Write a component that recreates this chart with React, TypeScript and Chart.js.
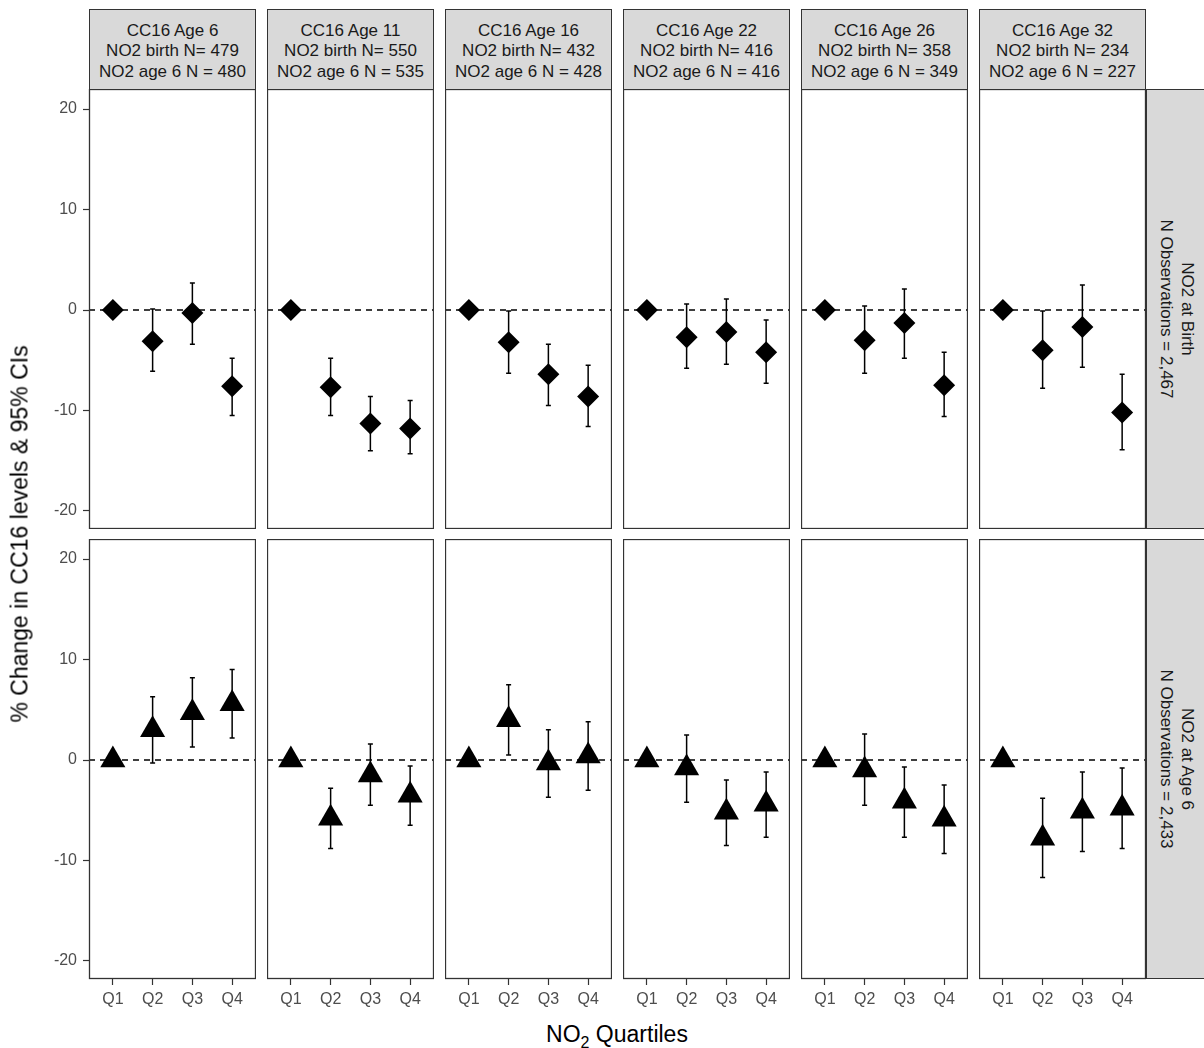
import React, { useEffect, useRef } from 'react';
import { Chart, registerables } from 'chart.js';

Chart.register(...registerables);

// ---------------- data ----------------
const QUARTILES = ['Q1', 'Q2', 'Q3', 'Q4'];
const AGE_LABELS = ['CC16 Age 6', 'CC16 Age 11', 'CC16 Age 16', 'CC16 Age 22', 'CC16 Age 26', 'CC16 Age 32'];
const BIRTH_N = [479, 550, 432, 416, 358, 234];
const AGE6_N = [480, 535, 428, 416, 349, 227];
const ROW_LABELS = ['NO2 at Birth', 'NO2 at Age 6'];
const ROW_OBS = ['2,467', '2,433'];
const Y_TICKS = [-20, -10, 0, 10, 20];

// NO2 at birth (diamonds)
const BIRTH_EST = [
  [0, -3.1, -0.3, -7.6],
  [0, -7.7, -11.3, -11.8],
  [0, -3.2, -6.4, -8.6],
  [0, -2.7, -2.2, -4.2],
  [0, -3.0, -1.3, -7.5],
  [0, -4.0, -1.7, -10.2],
];
const BIRTH_LO = [
  [null, -6.1, -3.4, -10.5],
  [null, -10.5, -14.0, -14.3],
  [null, -6.3, -9.5, -11.6],
  [null, -5.8, -5.4, -7.3],
  [null, -6.3, -4.8, -10.6],
  [null, -7.8, -5.7, -13.9],
];
const BIRTH_HI = [
  [null, 0.1, 2.7, -4.8],
  [null, -4.8, -8.6, -9.0],
  [null, -0.1, -3.4, -5.5],
  [null, 0.6, 1.1, -1.0],
  [null, 0.4, 2.1, -4.2],
  [null, -0.1, 2.5, -6.4],
];

// NO2 at age 6 (triangles)
const AGE6_EST = [
  [0, 3.0, 4.7, 5.6],
  [0, -5.8, -1.5, -3.5],
  [0, 4.0, -0.3, 0.4],
  [0, -0.8, -5.2, -4.4],
  [0, -1.0, -4.1, -5.9],
  [0, -7.8, -5.1, -4.8],
];
const AGE6_LO = [
  [null, -0.3, 1.3, 2.2],
  [null, -8.8, -4.5, -6.5],
  [null, 0.5, -3.7, -3.0],
  [null, -4.2, -8.5, -7.7],
  [null, -4.5, -7.7, -9.3],
  [null, -11.7, -9.1, -8.8],
];
const AGE6_HI = [
  [null, 6.3, 8.2, 9.0],
  [null, -2.8, 1.6, -0.6],
  [null, 7.5, 3.0, 3.8],
  [null, 2.5, -2.0, -1.2],
  [null, 2.6, -0.7, -2.5],
  [null, -3.8, -1.2, -0.8],
];

// ---------------- layout / style ----------------
const FONT = "'Liberation Sans', Arial, Helvetica, sans-serif";
const PANEL_LEFT0 = 89;
const PANEL_PITCH = 178;
const PANEL_W = 167;
const ROW_TOPS = [89, 539];
const PANEL_H = 440;
const STRIP_TOP = 9;
const STRIP_H = 80;
const RIGHT_STRIP_LEFT = 1146;
const RIGHT_STRIP_W = 60;
const Y_AXIS_W = 60;
const X_AXIS_H = 40;
const Y_MIN = -21.8;
const Y_MAX = 22.0;
const X_MIN = 0.4;
const X_MAX = 4.6;
const DARK = '#333333';
const TICK_TEXT = '#4d4d4d';
const TICK_FONT = 16;
const STRIP_FONT = 17;
const TITLE_FONT = 23;

function Panel({ row, col }: { row: number; col: number }) {
  const ref = useRef<HTMLCanvasElement>(null);
  const showY = col === 0;
  const showX = row === 1;
  const left = PANEL_LEFT0 + col * PANEL_PITCH - (showY ? Y_AXIS_W : 0);
  const top = ROW_TOPS[row];
  const width = PANEL_W + (showY ? Y_AXIS_W : 0);
  const height = PANEL_H + (showX ? X_AXIS_H : 0);

  useEffect(() => {
    const est = row === 0 ? BIRTH_EST[col] : AGE6_EST[col];
    const lo = row === 0 ? BIRTH_LO[col] : AGE6_LO[col];
    const hi = row === 0 ? BIRTH_HI[col] : AGE6_HI[col];

    const deco = {
      id: 'panelDeco',
      beforeDatasetsDraw(chart: any) {
        const { ctx, chartArea: a, scales } = chart;
        const y0 = scales.y.getPixelForValue(0);
        ctx.save();
        ctx.strokeStyle = '#000';
        ctx.lineWidth = 1.4;
        ctx.setLineDash([6, 5]);
        ctx.beginPath();
        ctx.moveTo(a.left, y0);
        ctx.lineTo(a.right, y0);
        ctx.stroke();
        ctx.setLineDash([]);
        ctx.lineWidth = 1.5;
        ctx.strokeStyle = '#000';
        for (let i = 0; i < lo.length; i++) {
          const l = lo[i];
          const h = hi[i];
          if (l == null || h == null) continue;
          const x = scales.x.getPixelForValue(i + 1);
          const yl = scales.y.getPixelForValue(l);
          const yh = scales.y.getPixelForValue(h);
          ctx.beginPath();
          ctx.moveTo(x, yl);
          ctx.lineTo(x, yh);
          ctx.moveTo(x - 2.5, yl);
          ctx.lineTo(x + 2.5, yl);
          ctx.moveTo(x - 2.5, yh);
          ctx.lineTo(x + 2.5, yh);
          ctx.stroke();
        }
        ctx.restore();
      },
      afterDraw(chart: any) {
        const { ctx, chartArea: a } = chart;
        ctx.save();
        ctx.strokeStyle = DARK;
        ctx.lineWidth = 1.3;
        ctx.strokeRect(a.left + 0.5, a.top + 0.5, a.right - a.left - 1, a.bottom - a.top - 1);
        ctx.restore();
      },
    };

    const chart = new Chart(ref.current as HTMLCanvasElement, {
      type: 'scatter',
      data: {
        datasets: [
          {
            data: est.map((v, i) => ({ x: i + 1, y: v })),
            pointStyle: row === 0 ? 'rectRot' : 'triangle',
            pointRadius: row === 0 ? 11 : 14.5,
            pointHoverRadius: row === 0 ? 11 : 14.5,
            pointBackgroundColor: '#000',
            pointBorderColor: '#000',
            pointBorderWidth: 0,
            clip: false,
          } as any,
        ],
      },
      options: {
        animation: false,
        responsive: false,
        maintainAspectRatio: false,
        events: [],
        layout: { padding: 0, autoPadding: false },
        plugins: { legend: { display: false }, tooltip: { enabled: false } },
        scales: {
          x: {
            type: 'linear',
            min: X_MIN,
            max: X_MAX,
            display: showX,
            afterBuildTicks: (s: any) => {
              s.ticks = QUARTILES.map((_, i) => ({ value: i + 1 }));
            },
            afterFit: (s: any) => {
              s.height = showX ? X_AXIS_H : 0;
              s.paddingLeft = 0;
              s.paddingRight = 0;
            },
            ticks: {
              callback: (v: any) => QUARTILES[Math.round(v) - 1] ?? '',
              font: { family: FONT, size: TICK_FONT },
              color: TICK_TEXT,
              padding: 5,
              autoSkip: false,
              maxRotation: 0,
              minRotation: 0,
            },
            grid: {
              drawOnChartArea: false,
              drawTicks: true,
              tickLength: 6,
              tickColor: DARK,
              tickWidth: 1.2,
              color: DARK,
            },
            border: { display: false },
          },
          y: {
            type: 'linear',
            min: Y_MIN,
            max: Y_MAX,
            display: showY,
            afterBuildTicks: (s: any) => {
              s.ticks = Y_TICKS.map((v) => ({ value: v }));
            },
            afterFit: (s: any) => {
              s.width = showY ? Y_AXIS_W : 0;
              s.paddingTop = 0;
              s.paddingBottom = 0;
            },
            ticks: {
              font: { family: FONT, size: TICK_FONT },
              color: TICK_TEXT,
              padding: 6,
            },
            grid: {
              drawOnChartArea: false,
              drawTicks: true,
              tickLength: 6,
              tickColor: DARK,
              tickWidth: 1.2,
              color: DARK,
            },
            border: { display: false },
          },
        },
      } as any,
      plugins: [deco],
    });
    return () => chart.destroy();
  }, [row, col]);

  return (
    <canvas
      ref={ref}
      width={width}
      height={height}
      style={{ position: 'absolute', left, top, width, height }}
    />
  );
}

export default function App() {
  const cols = AGE_LABELS.map((_, i) => i);
  return (
    <div
      style={{
        position: 'absolute',
        left: 0,
        top: 0,
        width: 1204,
        height: 1048,
        overflow: 'hidden',
        background: '#fff',
        fontFamily: FONT,
      }}
    >
      {cols.map((c) => (
        <div
          key={'strip' + c}
          style={{
            position: 'absolute',
            left: PANEL_LEFT0 + c * PANEL_PITCH,
            top: STRIP_TOP,
            width: PANEL_W,
            height: STRIP_H + 1,
            boxSizing: 'border-box',
            background: '#d9d9d9',
            border: `1.3px solid ${DARK}`,
            paddingTop: 4,
            display: 'flex',
            flexDirection: 'column',
            justifyContent: 'center',
            alignItems: 'center',
            color: '#1a1a1a',
            fontSize: STRIP_FONT,
            lineHeight: '20.5px',
            whiteSpace: 'nowrap',
          }}
        >
          <div>{AGE_LABELS[c]}</div>
          <div>{`NO2 birth N= ${BIRTH_N[c]}`}</div>
          <div>{`NO2 age 6 N = ${AGE6_N[c]}`}</div>
        </div>
      ))}
      {[0, 1].map((r) => (
        <div
          key={'rstrip' + r}
          style={{
            position: 'absolute',
            left: RIGHT_STRIP_LEFT,
            top: ROW_TOPS[r],
            width: RIGHT_STRIP_W,
            height: PANEL_H,
            boxSizing: 'border-box',
            background: '#d9d9d9',
            border: `1.3px solid ${DARK}`,
          }}
        >
          <div
            style={{
              position: 'absolute',
              left: '50%',
              top: '50%',
              transform: 'translate(-50%, -50%) rotate(90deg)',
              whiteSpace: 'nowrap',
              textAlign: 'center',
              color: '#1a1a1a',
              fontSize: STRIP_FONT,
              lineHeight: '20.5px',
            }}
          >
            <div>{ROW_LABELS[r]}</div>
            <div>{`N Observations = ${ROW_OBS[r]}`}</div>
          </div>
        </div>
      ))}
      {[0, 1].map((r) => cols.map((c) => <Panel key={`p${r}-${c}`} row={r} col={c} />))}
      <div
        style={{
          position: 'absolute',
          left: 20,
          top: 534,
          transform: 'translate(-50%, -50%) rotate(-90deg)',
          whiteSpace: 'nowrap',
          fontSize: TITLE_FONT,
          color: '#000',
        }}
      >
        % Change in CC16 levels &amp; 95% CIs
      </div>
      <div
        style={{
          position: 'absolute',
          left: 617,
          top: 1034,
          transform: 'translate(-50%, -50%)',
          whiteSpace: 'nowrap',
          fontSize: TITLE_FONT,
          color: '#000',
        }}
      >
        NO<span style={{ fontSize: 16, position: 'relative', top: 6 }}>2</span> Quartiles
      </div>
    </div>
  );
}
